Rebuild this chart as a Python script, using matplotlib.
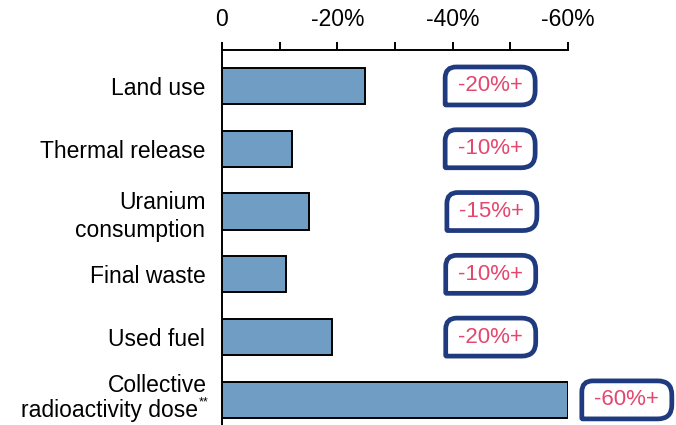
import matplotlib
matplotlib.use("Agg")
import matplotlib.pyplot as plt
from matplotlib.path import Path
from matplotlib.patches import PathPatch
from matplotlib.transforms import ScaledTranslation
from matplotlib.ticker import FixedLocator, FuncFormatter

plt.rcParams['font.family'] = ['Liberation Sans', 'DejaVu Sans']

categories = ["Land use", "Thermal release", "Uranium\nconsumption",
              "Final waste", "Used fuel", "Collective\nradioactivity dose"]
footnote_mark = "**"
values = [-24.8, -12.1, -15.1, -11.1, -19.1, -60.0]
box_labels = ["-20%+", "-10%+", "-15%+", "-10%+", "-20%+", "-60%+"]
box_x = [-46.5, -46.5, -46.8, -46.6, -46.6, -70.2]
major_ticks = [0, -20, -40, -60]
minor_ticks = [-10, -30, -50]

bar_color = "#709dc3"
navy = "#1f3a7e"
pink = "#e5466e"

fig = plt.figure(figsize=(6.76, 4.25), dpi=100)
ax = fig.add_axes([222/676, 0.0, (568-222)/676, 1 - 50/425])

y = list(range(len(categories)))
ax.barh(y, values, height=0.575, color=bar_color, edgecolor="black", linewidth=1.4)

ax.set_xlim(0, -60)
ax.set_ylim(5.4, -0.573)

ax.xaxis.tick_top()
ax.xaxis.set_major_locator(FixedLocator(major_ticks))
ax.xaxis.set_minor_locator(FixedLocator(minor_ticks))
ax.xaxis.set_major_formatter(FuncFormatter(lambda v, p: "0" if v == 0 else f"{int(v)}%"))
ax.tick_params(axis='x', which='both', direction='out', length=6, width=1.4, color='black')
ax.tick_params(axis='x', which='major', labelsize=16.5, pad=8)

ax.set_yticks(y)
ax.set_yticklabels([c if i < len(categories) - 1 else "" for i, c in enumerate(categories)],
                   fontsize=16.5, linespacing=1.3)
ax.tick_params(axis='y', length=0, pad=12)

# last label drawn manually so the footnote mark can be a superscript
last = len(categories) - 1
line1, line2 = categories[last].split("\n")
ax.annotate(line1, xy=(0, last), xycoords=('axes fraction', 'data'),
            xytext=(-11, 10.5), textcoords='offset points',
            ha='right', va='center', fontsize=16.5)
ax.annotate(line2, xy=(0, last), xycoords=('axes fraction', 'data'),
            xytext=(-17, -7.5), textcoords='offset points',
            ha='right', va='center', fontsize=16.5)
ax.annotate(footnote_mark, xy=(0, last), xycoords=('axes fraction', 'data'),
            xytext=(-10, -1.5), textcoords='offset points',
            ha='right', va='center', fontsize=9)

for s in ['right', 'bottom']:
    ax.spines[s].set_visible(False)
ax.spines['top'].set_linewidth(1.4)
ax.spines['left'].set_linewidth(1.4)


def tag_path(w, h, rtl, rtr, rbr, rbl):
    x0, x1, y0, y1 = -w/2, w/2, -h/2, h/2
    verts = [(x0 + rbl, y0), (x1 - rbr, y0), (x1, y0), (x1, y0 + rbr),
             (x1, y1 - rtr), (x1, y1), (x1 - rtr, y1),
             (x0 + rtl, y1), (x0, y1), (x0, y1 - rtl),
             (x0, y0 + rbl), (x0, y0), (x0 + rbl, y0), (x0 + rbl, y0)]
    codes = [Path.MOVETO, Path.LINETO, Path.CURVE3, Path.CURVE3,
             Path.LINETO, Path.CURVE3, Path.CURVE3,
             Path.LINETO, Path.CURVE3, Path.CURVE3,
             Path.LINETO, Path.CURVE3, Path.CURVE3, Path.CLOSEPOLY]
    return Path(verts, codes)


for i, (lab, bx) in enumerate(zip(box_labels, box_x)):
    tr = fig.dpi_scale_trans + ScaledTranslation(bx, i, ax.transData)
    p = PathPatch(tag_path(0.90, 0.38, 0.11, 0.14, 0.14, 0.01),
                  facecolor="white", edgecolor=navy, linewidth=3.4,
                  transform=tr, clip_on=False, zorder=3)
    ax.add_patch(p)
    ax.text(bx, i, lab, color=pink, fontsize=16, ha='center', va='center',
            zorder=4, clip_on=False)

fig.savefig("out.png", dpi=100)
